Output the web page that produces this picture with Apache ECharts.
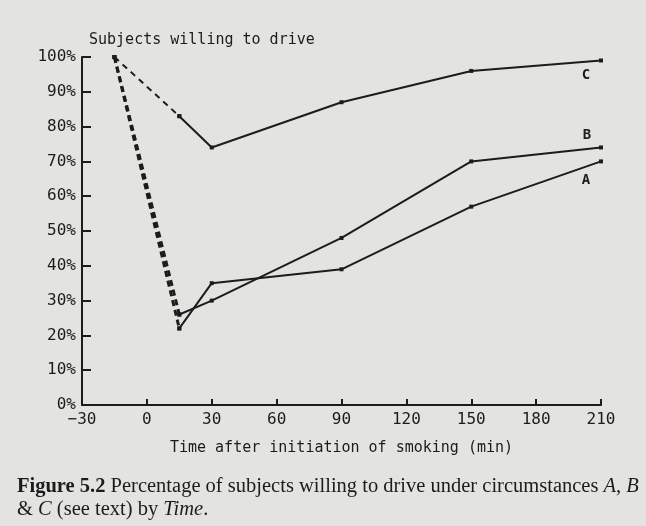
<!DOCTYPE html>
<html>
<head>
<meta charset="utf-8">
<script src="https://cdn.jsdelivr.net/npm/echarts@6/dist/echarts.min.js"></script>
<style>
html,body{margin:0;padding:0;background:#e3e3e1;}
#chart{width:646px;height:526px;}
</style>
</head>
<body>
<div id="chart"></div>
<script>
// Data
const times = [-15, 15, 30, 90, 150, 210];
const seriesA = [100, 22, 35, 39, 57, 70];
const seriesB = [100, 26, 30, 48, 70, 74];
const seriesC = [100, 83, 74, 87, 96, 99];
const xTicks = [-30, 0, 30, 60, 90, 120, 150, 180, 210];
const yTicks = [0, 10, 20, 30, 40, 50, 60, 70, 80, 90, 100];
const yTitle = 'Subjects willing to drive';
const xTitle = 'Time after initiation of smoking (min)';

const ink = '#1c1c1c';
const mono = '"DejaVu Sans Mono", monospace';
const serif = '"Liberation Serif", serif';

function pairs(vals, from, to) {
  const out = [];
  for (let i = from; i <= to; i++) out.push([times[i], vals[i]]);
  return out;
}

function solidPart(name, vals, labelPos, labelOffset) {
  const d = pairs(vals, 1, vals.length - 1);
  const last = d.length - 1;
  d[last] = {
    value: d[last],
    label: {
      show: true, formatter: name, position: labelPos, offset: labelOffset,
      color: ink, fontFamily: mono, fontSize: 14, fontWeight: 'bold'
    }
  };
  return {
    type: 'line', name: name, data: d, symbol: 'rect', symbolSize: 4,
    lineStyle: {color: ink, width: 2}, itemStyle: {color: ink},
    z: 3, animation: false
  };
}
function dashedPart(name, vals, width, dash) {
  return {
    type: 'line', name: name + '-pre', data: pairs(vals, 0, 1), symbol: 'rect', symbolSize: 4,
    lineStyle: {color: ink, width: width, type: dash}, itemStyle: {color: ink},
    z: 2, animation: false
  };
}

const chart = echarts.init(document.getElementById('chart'), null, {renderer: 'canvas'});
chart.setOption({
  backgroundColor: '#e3e3e1',
  animation: false,
  grid: {left: 82, right: 45, top: 57, bottom: 121, containLabel: false},
  title: {
    text: yTitle, left: 84, top: 28,
    textStyle: {color: ink, fontFamily: mono, fontSize: 15, fontWeight: 'normal'}
  },
  xAxis: {
    type: 'value', min: xTicks[0], max: xTicks[xTicks.length - 1], interval: 30,
    name: xTitle, nameLocation: 'middle', nameGap: 36,
    nameTextStyle: {color: ink, fontFamily: mono, fontSize: 15},
    axisLine: {show: true, onZero: false, lineStyle: {color: ink, width: 2}},
    axisTick: {show: true, inside: true, length: 6, lineStyle: {color: ink, width: 2}},
    axisLabel: {color: ink, fontFamily: mono, fontSize: 16, margin: 7,
      formatter: v => (v < 0 ? '\u2212' + Math.abs(v) : String(v))},
    splitLine: {show: false}
  },
  yAxis: {
    type: 'value', min: yTicks[0], max: yTicks[yTicks.length - 1], interval: 10,
    axisLine: {show: true, onZero: false, lineStyle: {color: ink, width: 2}},
    axisTick: {show: true, inside: true, length: 9, lineStyle: {color: ink, width: 2}},
    axisLabel: {color: ink, fontFamily: mono, fontSize: 16, margin: 6, formatter: '{value}%'},
    splitLine: {show: false}
  },
  series: [
    dashedPart('A', seriesA, 3, [6, 4]),
    dashedPart('B', seriesB, 3, [6, 4]),
    dashedPart('C', seriesC, 2, [6, 5]),
    solidPart('A', seriesA, 'bottom', [-15, 5]),
    solidPart('B', seriesB, 'top', [-14, 2]),
    solidPart('C', seriesC, 'bottom', [-15, 1])
  ],
  graphic: [{
    type: 'text', left: 17, top: 475,
    style: {
      text: '{b|Figure 5.2} Percentage of subjects willing to drive under circumstances {i|A}, {i|B}\n& {i|C} (see text) by {i|Time}.',
      rich: {
        b: {fontWeight: 'bold', fontFamily: serif, fontSize: 20.5, fill: ink},
        i: {fontStyle: 'italic', fontFamily: serif, fontSize: 20.5, fill: ink}
      },
      font: '20.5px "Liberation Serif", serif',
      fill: ink, lineHeight: 23
    }
  }]
});
</script>
</body>
</html>
